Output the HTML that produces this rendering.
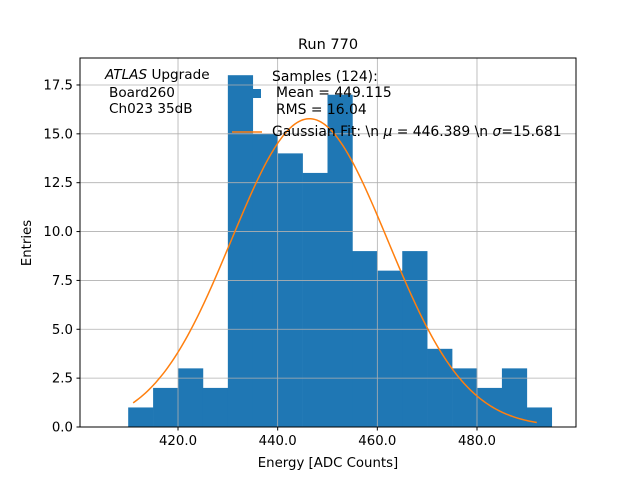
<!DOCTYPE html>
<html><head><meta charset="utf-8"><style>
body{margin:0;background:#fff;}
svg text{font-family:"DejaVu Sans","Liberation Sans",sans-serif;fill:#000;}
</style></head><body>
<svg id="chart" width="640" height="480" xmlns="http://www.w3.org/2000/svg">
<rect width="640" height="480" fill="#fff"/>
<g id="bars"></g>
<g id="grid"></g>
<path id="fit" fill="none" stroke="#ff7f0e" stroke-width="1.5"/>
<rect x="80" y="58" width="496" height="369" fill="none" stroke="#000" stroke-width="1"/>
<g id="ticks"></g>
<text x="328" y="49" font-size="14.5" text-anchor="middle">Run 770</text>
<text x="328" y="467" font-size="13.3" text-anchor="middle">Energy [ADC Counts]</text>
<text transform="translate(31,243) rotate(-90)" font-size="13.3" text-anchor="middle">Entries</text>
<g font-size="13.6">
<text x="105" y="79"><tspan font-style="italic">ATLAS</tspan> Upgrade</text>
<text x="109" y="97">Board260</text>
<text x="109" y="113">Ch023 35dB</text>
</g>
<g font-size="13.9">
<rect x="253" y="89" width="8" height="9" fill="#1f77b4"/>
<text x="272" y="81">Samples (124):</text>
<text x="276" y="97">Mean = 449.115</text>
<text x="276" y="114">RMS = 16.04</text>
<line x1="232" y1="132" x2="262" y2="132" stroke="#ff7f0e" stroke-width="1.5"/>
<text x="272" y="136">Gaussian Fit: \n <tspan font-style="italic">μ</tspan> = 446.389 \n <tspan font-style="italic">σ</tspan>=15.681</text>
</g>
</svg>
<script>
const binStarts=[410,415,420,425,430,435,440,445,450,455,460,465,470,475,480,485,490];
const counts=[1,2,3,2,18,15,14,13,17,9,8,9,4,3,2,3,1];
const binWidth=5;
const xTicks=[420,440,460,480];
const yTicks=[0,2.5,5,7.5,10,12.5,15,17.5];
const fitMu=446.389, fitSigma=15.681, fitN=124, fitRange=[411,492];
const X0=80,X1=576,Y0=427,Y1=58, xmin=400.33,xmax=499.87,ymin=0,ymax=18.88;
const sx=v=>X0+(v-xmin)/(xmax-xmin)*(X1-X0);
const sy=v=>Y0-(v-ymin)/(ymax-ymin)*(Y0-Y1);
const NS="http://www.w3.org/2000/svg";
const mk=(t,a,p)=>{const e=document.createElementNS(NS,t);for(const k in a)e.setAttribute(k,a[k]);p.appendChild(e);return e;};
const grid=document.getElementById('grid'),ticks=document.getElementById('ticks'),bars=document.getElementById('bars');
xTicks.forEach(v=>{const x=sx(v);
 const g=mk('line',{x1:x,x2:x,y1:Y1,y2:Y0,stroke:'#b0b0b0','stroke-width':0.8},grid);
 
 
 const t=mk('line',{x1:x,x2:x,y1:Y0,y2:Y0+3.5,stroke:'#000'},ticks);
 
 
 const l=mk('text',{x:x,y:Y0+18,'font-size':13.3,'text-anchor':'middle'},ticks);l.textContent=v.toFixed(1);
 
 
});
yTicks.forEach(v=>{const y=sy(v);
 const g=mk('line',{x1:X0,x2:X1,y1:y,y2:y,stroke:'#b0b0b0','stroke-width':0.8},grid);
 
 
 const t=mk('line',{x1:X0-3.5,x2:X0,y1:y,y2:y,stroke:'#000'},ticks);
 
 
 const l=mk('text',{x:X0-7,y:y+4.5,'font-size':13.3,'text-anchor':'end'},ticks);l.textContent=v.toFixed(1);
 
 
});
binStarts.forEach((b,i)=>{const x=sx(b),w=sx(b+binWidth)-x,y=sy(counts[i]);
 const r=mk('rect',{x:x,y:y,width:w+0.3,height:Y0-y,fill:'#1f77b4'},bars);
 
 
});
const A=fitN*binWidth/(fitSigma*Math.sqrt(2*Math.PI));
let d='';
for(let i=0;i<=200;i++){const v=fitRange[0]+(fitRange[1]-fitRange[0])*i/200;
 const f=A*Math.exp(-0.5*((v-fitMu)/fitSigma)**2);
 d+=(i?'L':'M')+sx(v).toFixed(2)+','+sy(f).toFixed(2);}
document.getElementById('fit').setAttribute('d',d);
</script>
</body></html>
